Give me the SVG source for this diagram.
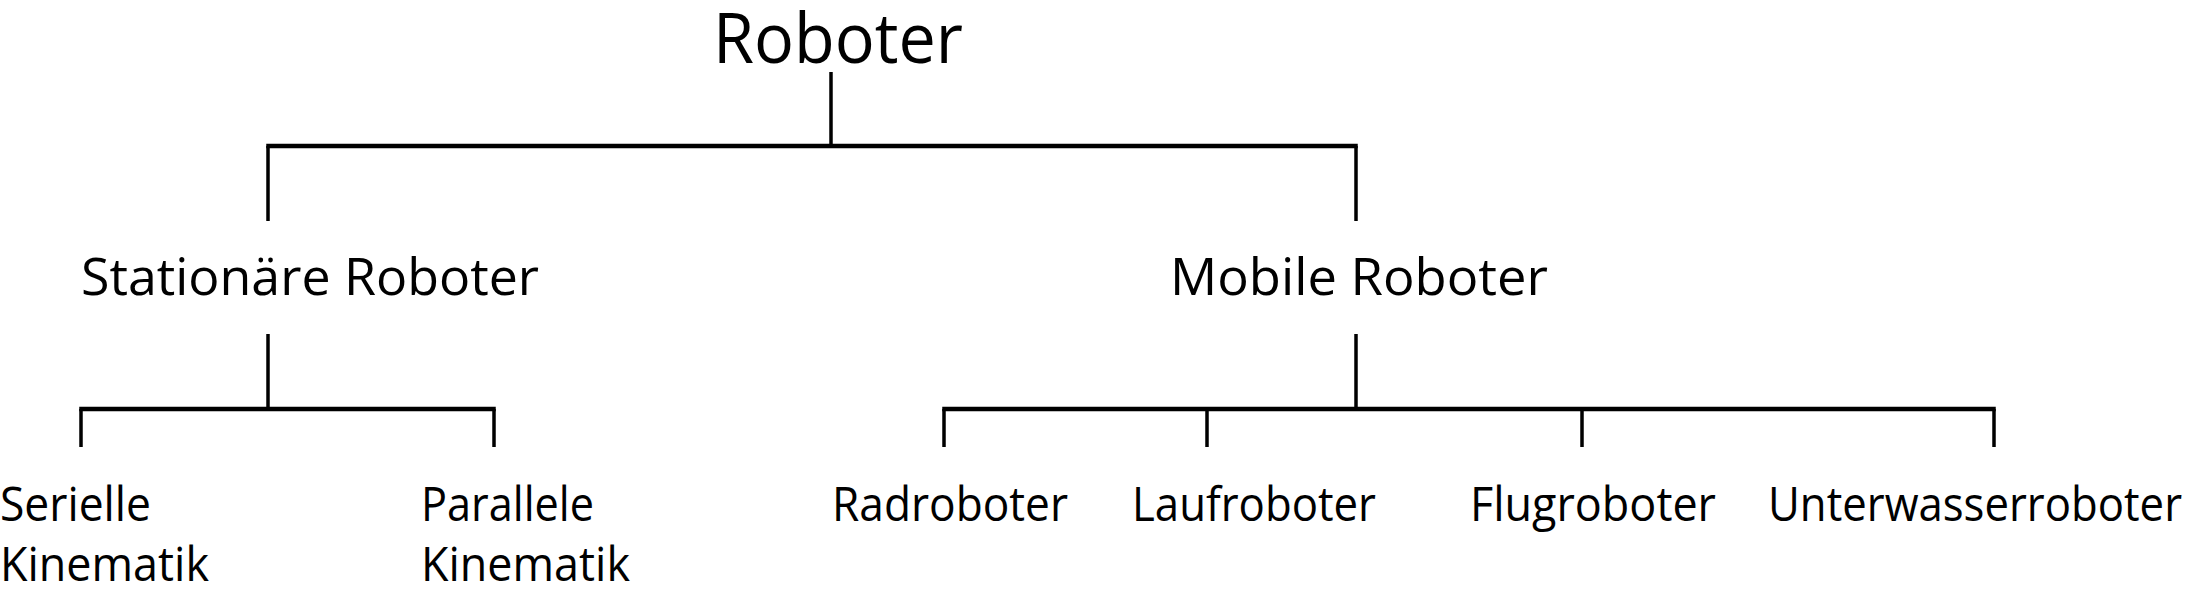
<svg xmlns="http://www.w3.org/2000/svg" width="2186" height="594" viewBox="0 0 2186 594">
<style>
text{font-family:"Open Sans","Noto Sans","Liberation Sans",sans-serif;fill:#000}
.l0{font-size:69px}
.l1{font-size:52px}
.l2{font-size:47px}
.h{stroke:#000;stroke-width:4.5;fill:none}
.v{stroke:#000;stroke-width:3.5;fill:none}
</style>
<rect width="2186" height="594" fill="#fff"/>
<g id="connectors">
<path class="v" d="M831 72V146"/>
<path class="h" d="M266.25 146H1357.75"/>
<path class="v" d="M268 146V221M1356 146V221"/>
<path class="v" d="M268 334V409"/>
<path class="h" d="M79.25 409H495.75"/>
<path class="v" d="M81 409V447M494 409V447"/>
<path class="v" d="M1356 334V409"/>
<path class="h" d="M942.25 409H1995.75"/>
<path class="v" d="M944 409V447M1207 409V447M1582 409V447M1994 409V447"/>
</g>
<g id="n-roboter"><text class="l0" x="713" y="63" textLength="250" lengthAdjust="spacingAndGlyphs">Roboter</text></g>
<g id="n-stationaer"><text class="l1" x="81" y="295" textLength="458" lengthAdjust="spacingAndGlyphs">Stationäre Roboter</text></g>
<g id="n-mobile"><text class="l1" x="1170" y="295" textLength="378" lengthAdjust="spacingAndGlyphs">Mobile Roboter</text></g>
<g id="n-seriell"><text class="l2" x="0" y="521" textLength="151" lengthAdjust="spacingAndGlyphs">Serielle</text><text class="l2" x="0" y="581" textLength="209" lengthAdjust="spacingAndGlyphs">Kinematik</text></g>
<g id="n-parallel"><text class="l2" x="421" y="521" textLength="173" lengthAdjust="spacingAndGlyphs">Parallele</text><text class="l2" x="421" y="581" textLength="209" lengthAdjust="spacingAndGlyphs">Kinematik</text></g>
<g id="n-rad"><text class="l2" x="832" y="521" textLength="236" lengthAdjust="spacingAndGlyphs">Radroboter</text></g>
<g id="n-lauf"><text class="l2" x="1132" y="521" textLength="244" lengthAdjust="spacingAndGlyphs">Laufroboter</text></g>
<g id="n-flug"><text class="l2" x="1470" y="521" textLength="246" lengthAdjust="spacingAndGlyphs">Flugroboter</text></g>
<g id="n-unterwasser"><text class="l2" x="1768" y="521" textLength="414" lengthAdjust="spacingAndGlyphs">Unterwasserroboter</text></g>
</svg>
